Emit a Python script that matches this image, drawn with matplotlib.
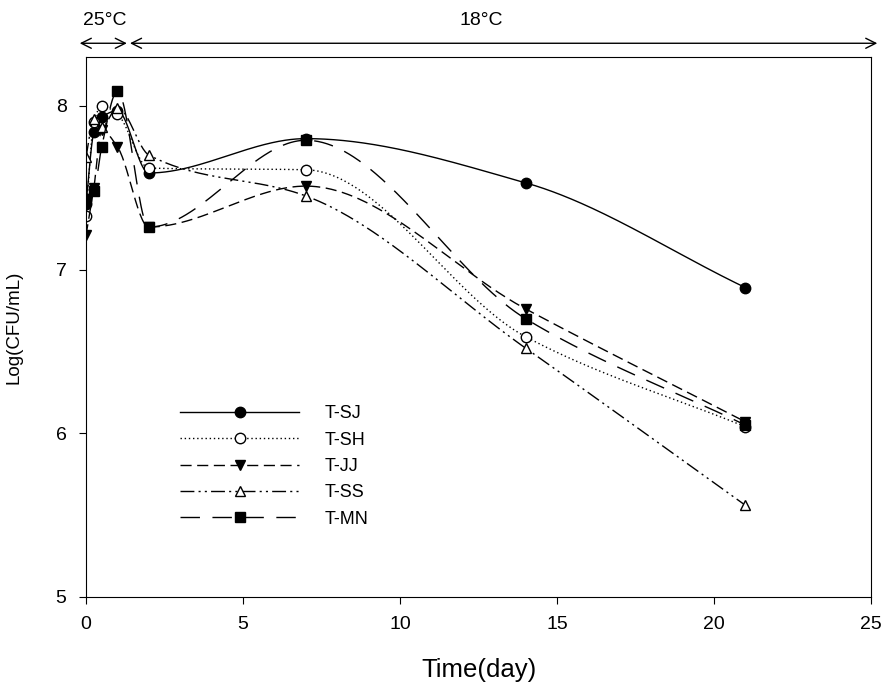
import numpy as np
import matplotlib
matplotlib.use('Agg')
import matplotlib.pyplot as plt

plt.rcParams['font.family'] = ['Liberation Sans', 'DejaVu Sans']

# Sampling times (day) and log counts for each treatment
days = [0, 0.25, 0.5, 1, 2, 7, 14, 21]
t_sj = [7.40, 7.84, 7.93, 7.97, 7.59, 7.80, 7.53, 6.89]
t_sh = [7.33, 7.90, 8.00, 7.95, 7.62, 7.61, 6.59, 6.04]
t_jj = [7.21, 7.50, 7.85, 7.75, 7.26, 7.51, 6.76, 6.07]
t_ss = [7.69, 7.92, 7.87, 7.99, 7.70, 7.45, 6.52, 5.56]
t_mn = [7.43, 7.48, 7.75, 8.09, 7.26, 7.79, 6.70, 6.05]
labels = ['T-SJ', 'T-SH', 'T-JJ', 'T-SS', 'T-MN']


def smooth(x, y, num=600):
    # monotone cubic (Fritsch-Carlson) curve through the points
    x = np.asarray(x, float)
    y = np.asarray(y, float)
    h = np.diff(x)
    s = np.diff(y) / h
    n = len(x)
    d = np.zeros(n)
    for i in range(1, n - 1):
        if s[i - 1] * s[i] > 0:
            w1 = 2 * h[i] + h[i - 1]
            w2 = h[i] + 2 * h[i - 1]
            d[i] = (w1 + w2) / (w1 / s[i - 1] + w2 / s[i])
    d[0] = s[0]
    d[-1] = s[-1]
    xs = np.linspace(x[0], x[-1], num)
    idx = np.clip(np.searchsorted(x, xs) - 1, 0, n - 2)
    t = (xs - x[idx]) / h[idx]
    h00 = 2 * t**3 - 3 * t**2 + 1
    h10 = t**3 - 2 * t**2 + t
    h01 = -2 * t**3 + 3 * t**2
    h11 = t**3 - t**2
    ys = (h00 * y[idx] + h10 * h[idx] * d[idx]
          + h01 * y[idx + 1] + h11 * h[idx] * d[idx + 1])
    return xs, ys


styles = [
    dict(ls='-', marker='o', mfc='black'),
    dict(ls=(0, (1, 2)), marker='o', mfc='white'),
    dict(ls=(0, (8, 4)), marker='v', mfc='black'),
    dict(ls=(0, (10, 3, 1.5, 3, 1.5, 3)), marker='^', mfc='white'),
    dict(ls=(0, (14, 9)), marker='s', mfc='black'),
]

fig = plt.figure(figsize=(8.85, 6.84), dpi=100)
ax = fig.add_axes([0.0972, 0.1272, 0.887, 0.7898])

for vals, lab, st in zip([t_sj, t_sh, t_jj, t_ss, t_mn], labels, styles):
    xs, ys = smooth(days, vals)
    ax.plot(xs, ys, color='black', lw=1, ls=st['ls'])
    ax.plot(days, vals, ls='none', marker=st['marker'], ms=7.5,
            mfc=st['mfc'], mec='black', mew=1)
    # legend proxy: line plus one marker
    ax.plot([], [], color='black', lw=1, ls=st['ls'], marker=st['marker'],
            ms=7.5, mfc=st['mfc'], mec='black', label=lab)

ax.set_xlim(0, 25)
ax.set_ylim(5, 8.3)
ax.set_xticks([0, 5, 10, 15, 20, 25])
ax.set_yticks([5, 6, 7, 8])
ax.tick_params(direction='out', length=5, labelsize=14, pad=9)
ax.set_xlabel('Time(day)', fontsize=18.5, labelpad=18)
ax.set_ylabel('Log(CFU/mL)', fontsize=13.5, labelpad=24)

ax.legend(loc='upper left', bbox_to_anchor=(0.12, 0.355), frameon=False,
          borderaxespad=0, borderpad=0, handlelength=6.6, numpoints=1,
          fontsize=13, labelspacing=0.52, handletextpad=1.4)

# storage temperature periods above the plot
arr = dict(arrowstyle='<->', color='black', lw=1, shrinkA=0, shrinkB=0,
           mutation_scale=18)
ax.annotate('', xy=(-0.2, 1.025), xytext=(1.3, 1.025),
            xycoords=('data', 'axes fraction'), annotation_clip=False,
            arrowprops=arr)
ax.annotate('', xy=(1.4, 1.025), xytext=(25.2, 1.025),
            xycoords=('data', 'axes fraction'), annotation_clip=False,
            arrowprops=arr)
ax.text(0.6, 1.068, '25°C', transform=ax.get_xaxis_transform(),
        ha='center', va='center', fontsize=14)
ax.text(12.6, 1.068, '18°C', transform=ax.get_xaxis_transform(),
        ha='center', va='center', fontsize=14)

fig.savefig('out.png', dpi=100)
